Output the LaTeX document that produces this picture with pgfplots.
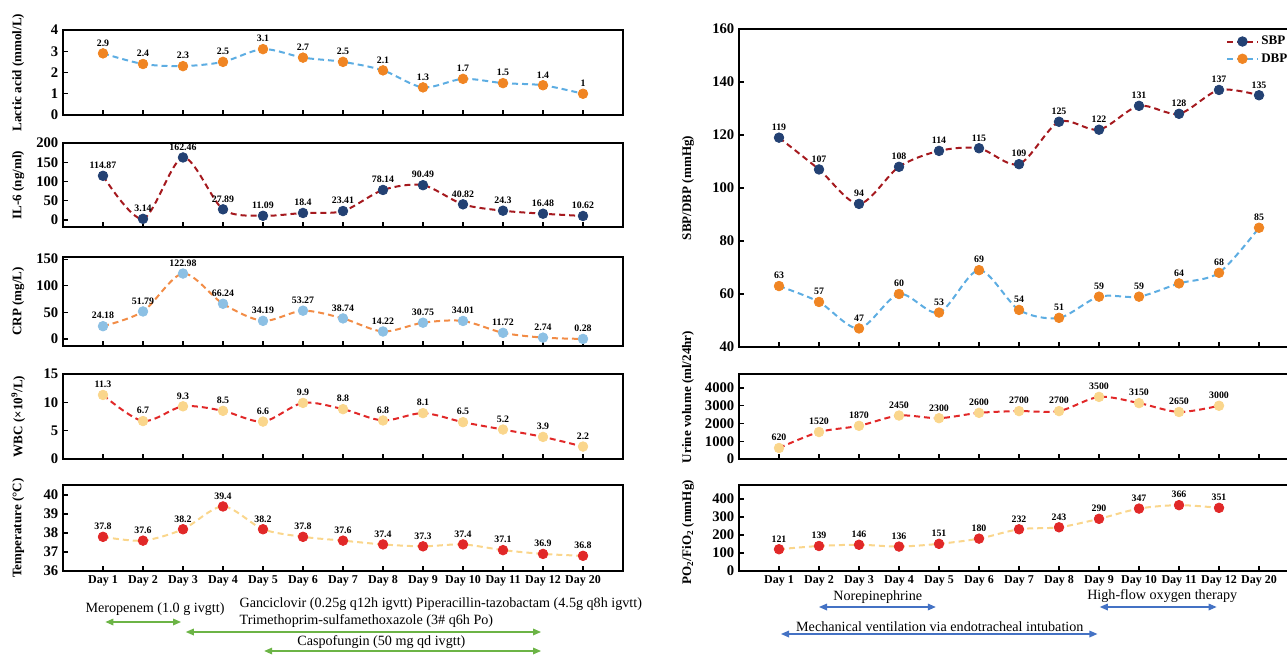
\documentclass[border=0pt]{standalone}
\usepackage{fontspec}
\setmainfont{Liberation Serif}
\usepackage{pgfplots}
\pgfplotsset{compat=1.18}
\usetikzlibrary{arrows.meta}
\definecolor{lblue}{RGB}{93,173,226}
\definecolor{orng}{RGB}{240,133,35}
\definecolor{dred}{RGB}{165,25,30}
\definecolor{navy}{RGB}{35,65,115}
\definecolor{lorange}{RGB}{242,140,70}
\definecolor{skyb}{RGB}{140,192,228}
\definecolor{red1}{RGB}{225,40,40}
\definecolor{lyel}{RGB}{250,214,140}
\definecolor{agreen}{RGB}{108,180,70}
\definecolor{ablue}{RGB}{68,114,196}
\pgfplotsset{
  panel/.style={scale only axis, width=420pt, xmin=-1, xmax=13, xtick={0,...,12},
    axis line style={line width=1.1pt}, tick style={black, line width=0.9pt},
    tick align=inside, major tick length=4pt, xtick pos=left, ytick pos=left,
    xticklabels={}, clip=false,
    y tick label style={font=\fontsize{11}{12}\selectfont\bfseries},
    /pgf/number format/assume math mode=true,
    /pgf/number format/1000 sep={}, scaled y ticks=false,
    ylabel style={at={(axis description cs:-0.08,0.5)}, anchor=center, font=\fontsize{9.8}{11}\selectfont\bfseries},
    nodes near coords, point meta=explicit symbolic,
    every node near coord/.append style={font=\fontsize{7.4}{8}\selectfont\bfseries, text=black, anchor=south, inner sep=1pt, yshift=4pt}},
  rpanel/.style={panel, ylabel style={at={(axis description cs:-0.091,0.5)}}},
  dline/.style 2 args={smooth, line width=1.5pt, dash pattern=on 4.5pt off 3pt, color=#1, mark=*, mark size=3.6pt, mark options={solid, fill=#2, draw=#2, line width=0.6pt}},
  daylabels/.style={xticklabels={Day 1,Day 2,Day 3,Day 4,Day 5,Day 6,Day 7,Day 8,Day 9,Day 10,Day 11,Day 12,Day 20},
    x tick label style={font=\fontsize{9}{10}\selectfont\bfseries}}
}
\begin{document}
\begin{tikzpicture}
\useasboundingbox (0,0) rectangle (965.25pt,493.5pt);
\clip (0,0) rectangle (965.25pt,493.5pt);
% ---------- left column ----------
\begin{axis}[panel, at={(47.25pt,407.25pt)}, anchor=south west, height=63.75pt,
  ymin=0, ymax=4, ytick={0,1,2,3,4}, ylabel={Lactic acid (mmol/L)}]
\addplot[dline={lblue}{orng}] coordinates {(0,2.9)[2.9] (1,2.4)[2.4] (2,2.3)[2.3] (3,2.5)[2.5] (4,3.1)[3.1] (5,2.7)[2.7] (6,2.5)[2.5] (7,2.1)[2.1] (8,1.3)[1.3] (9,1.7)[1.7] (10,1.5)[1.5] (11,1.4)[1.4] (12,1)[1]};
\end{axis}
\begin{axis}[panel, at={(47.25pt,323.25pt)}, anchor=south west, height=63pt,
  ymin=-18, ymax=200, ytick={0,50,100,150,200}, ylabel={IL-6 (ng/ml)}]
\addplot[dline={dred}{navy}] coordinates {(0,114.87)[114.87] (1,3.14)[3.14] (2,162.46)[162.46] (3,27.89)[27.89] (4,11.09)[11.09] (5,18.4)[18.4] (6,23.41)[23.41] (7,78.14)[78.14] (8,90.49)[90.49] (9,40.82)[40.82] (10,24.3)[24.3] (11,16.48)[16.48] (12,10.62)[10.62]};
\end{axis}
\begin{axis}[panel, at={(47.25pt,234pt)}, anchor=south west, height=66.75pt,
  ymin=-13, ymax=154, ytick={0,50,100,150}, ylabel={CRP (mg/L)}]
\addplot[dline={lorange}{skyb}] coordinates {(0,24.18)[24.18] (1,51.79)[51.79] (2,122.98)[122.98] (3,66.24)[66.24] (4,34.19)[34.19] (5,53.27)[53.27] (6,38.74)[38.74] (7,14.22)[14.22] (8,30.75)[30.75] (9,34.01)[34.01] (10,11.72)[11.72] (11,2.74)[2.74] (12,0.28)[0.28]};
\end{axis}
\begin{axis}[panel, at={(47.25pt,149.25pt)}, anchor=south west, height=63.75pt,
  ymin=0, ymax=15, ytick={0,5,10,15}, ylabel={WBC (×10\textsuperscript{9}/L)}]
\addplot[dline={red1}{lyel}] coordinates {(0,11.3)[11.3] (1,6.7)[6.7] (2,9.3)[9.3] (3,8.5)[8.5] (4,6.6)[6.6] (5,9.9)[9.9] (6,8.8)[8.8] (7,6.8)[6.8] (8,8.1)[8.1] (9,6.5)[6.5] (10,5.2)[5.2] (11,3.9)[3.9] (12,2.2)[2.2]};
\end{axis}
\begin{axis}[panel, daylabels, at={(47.25pt,65.25pt)}, anchor=south west, height=64.5pt,
  ymin=36, ymax=40.53, ytick={36,37,38,39,40}, ylabel={Temperature (°C)}]
\addplot[dline={lyel}{red1}] coordinates {(0,37.8)[37.8] (1,37.6)[37.6] (2,38.2)[38.2] (3,39.4)[39.4] (4,38.2)[38.2] (5,37.8)[37.8] (6,37.6)[37.6] (7,37.4)[37.4] (8,37.3)[37.3] (9,37.4)[37.4] (10,37.1)[37.1] (11,36.9)[36.9] (12,36.8)[36.8]};
\end{axis}
% ---------- right column ----------
\begin{axis}[rpanel, at={(554.25pt,233.25pt)}, anchor=south west, height=238.5pt,
  ymin=40, ymax=160, ytick={40,60,80,100,120,140,160}, ylabel={SBP/DBP (mmHg)},
  legend style={draw=none, fill=none, at={(0.8625,0.995)}, anchor=north west,
    font=\fontsize{9.8}{11}\selectfont\bfseries, row sep=1pt},
  legend cell align=left,
  legend image code/.code={\draw[mark repeat=2,mark phase=2,#1] plot coordinates {(0cm,0cm) (0.4cm,0cm) (0.8cm,0cm)};}]
\addplot[dline={dred}{navy}] coordinates {(0,119)[119] (1,107)[107] (2,94)[94] (3,108)[108] (4,114)[114] (5,115)[115] (6,109)[109] (7,125)[125] (8,122)[122] (9,131)[131] (10,128)[128] (11,137)[137] (12,135)[135]};
\addlegendentry{SBP}
\addplot[dline={lblue}{orng}] coordinates {(0,63)[63] (1,57)[57] (2,47)[47] (3,60)[60] (4,53)[53] (5,69)[69] (6,54)[54] (7,51)[51] (8,59)[59] (9,59)[59] (10,64)[64] (11,68)[68] (12,85)[85]};
\addlegendentry{DBP}
\end{axis}
\begin{axis}[rpanel, at={(554.25pt,149.25pt)}, anchor=south west, height=63.75pt,
  ymin=0, ymax=4790, ytick={0,1000,2000,3000,4000}, ylabel={Urine volume (ml/24hr)},
  ylabel style={at={(axis description cs:-0.091,0.73)}}]
\addplot[dline={red1}{lyel}] coordinates {(0,620)[620] (1,1520)[1520] (2,1870)[1870] (3,2450)[2450] (4,2300)[2300] (5,2600)[2600] (6,2700)[2700] (7,2700)[2700] (8,3500)[3500] (9,3150)[3150] (10,2650)[2650] (11,3000)[3000]};
\end{axis}
\begin{axis}[rpanel, daylabels, at={(554.25pt,65.25pt)}, anchor=south west, height=64.5pt,
  ymin=0, ymax=478, ytick={0,100,200,300,400}, ylabel={PO\textsubscript{2}/FiO\textsubscript{2} (mmHg)},
  ylabel style={at={(axis description cs:-0.091,0.45)}}]
\addplot[dline={lyel}{red1}] coordinates {(0,121)[121] (1,139)[139] (2,146)[146] (3,136)[136] (4,151)[151] (5,180)[180] (6,232)[232] (7,243)[243] (8,290)[290] (9,347)[347] (10,366)[366] (11,351)[351]};
\end{axis}
% ---------- treatment annotations ----------
\begin{scope}[font=\fontsize{10.6}{12}\selectfont, >={Triangle[length=6pt,width=5pt]}]
\node at (116.25pt,36.75pt) {Meropenem (1.0 g ivgtt)};
\draw[agreen, line width=0.9pt, <->] (79.05pt,27pt) -- (135.75pt,27pt);
\node[anchor=west, inner sep=0pt] at (179.55pt,40.5pt) {Ganciclovir (0.25g q12h igvtt) Piperacillin-tazobactam (4.5g q8h igvtt)};
\node[anchor=west, inner sep=0pt] at (179.55pt,27.75pt) {Trimethoprim-sulfamethoxazole (3\# q6h Po)};
\draw[agreen, line width=0.9pt, <->] (139.35pt,19.5pt) -- (405.75pt,19.5pt);
\node at (286.05pt,12pt) {Caspofungin (50 mg qd ivgtt)};
\draw[agreen, line width=0.9pt, <->] (198.15pt,5.25pt) -- (405.75pt,5.25pt);
\node at (658.35pt,45.75pt) {Norepinephrine};
\draw[ablue, line width=0.9pt, <->] (614.25pt,38.25pt) -- (701.85pt,38.25pt);
\node at (871.65pt,46.5pt) {High-flow oxygen therapy};
\draw[ablue, line width=0.9pt, <->] (824.85pt,38.25pt) -- (912.45pt,38.25pt);
\node at (704.85pt,23.25pt) {Mechanical ventilation via endotracheal intubation};
\draw[ablue, line width=0.9pt, <->] (585.75pt,18pt) -- (823.05pt,18pt);
\end{scope}
\end{tikzpicture}
\end{document}
